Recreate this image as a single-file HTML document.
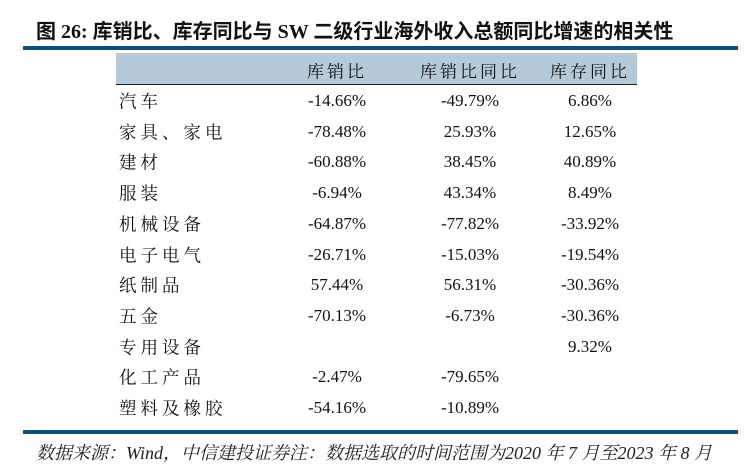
<!DOCTYPE html>
<html><head><meta charset="utf-8"><style>
body{margin:0;width:754px;height:474px;background:#fff;position:relative;overflow:hidden;font-family:"Liberation Serif","Noto Serif CJK SC",serif;color:#111}
.t{position:absolute;left:36px;top:15px;font-family:"Liberation Serif","Noto Sans CJK SC",sans-serif;font-weight:bold;font-size:20px;white-space:nowrap}
.r{position:absolute;left:23px;width:715px;height:4px;background:#0e4f7a}
.hd{position:absolute;left:116px;top:53px;width:521px;height:31px;background:#b5cad9;border-bottom:1.5px solid #222}
.c{position:absolute;font-size:17px;white-space:nowrap;transform:translate(-50%,-50%)}
.l{position:absolute;left:119px;font-size:17.5px;letter-spacing:4px;white-space:nowrap;transform:translateY(-50%)}
.f{position:absolute;left:36px;top:439px;font-style:italic;font-size:18px;white-space:nowrap;color:#222}
</style></head><body>
<div class="t">图 26:&nbsp;库销比、库存同比与 SW 二级行业海外收入总额同比增速的相关性</div>
<div class="r" style="top:46px"></div>
<div class="hd"></div>
<div class="c" style="left:337px;top:70px;letter-spacing:3px">库销比</div>
<div class="c" style="left:470px;top:70px;letter-spacing:3px">库销比同比</div>
<div class="c" style="left:590px;top:70px;letter-spacing:3px">库存同比</div>
<div id="rows"></div>
<script>
var d=[["汽车","-14.66%","-49.79%","6.86%"],["家具、家电","-78.48%","25.93%","12.65%"],["建材","-60.88%","38.45%","40.89%"],["服装","-6.94%","43.34%","8.49%"],["机械设备","-64.87%","-77.82%","-33.92%"],["电子电气","-26.71%","-15.03%","-19.54%"],["纸制品","57.44%","56.31%","-30.36%"],["五金","-70.13%","-6.73%","-30.36%"],["专用设备","","","9.32%"],["化工产品","-2.47%","-79.65%",""],["塑料及橡胶","-54.16%","-10.89%",""]];
var h="";d.forEach(function(r,i){var y=101+i*30.7;h+='<div class="l" style="top:'+y+'px">'+r[0]+'</div>';[337,470,590].forEach(function(x,j){h+='<div class="c" style="left:'+x+'px;top:'+y+'px">'+r[j+1]+'</div>';});});
document.getElementById("rows").innerHTML=h;
</script>
<div class="r" style="top:430px"></div>
<div class="f">数据来源：Wind，中信建投证券注：数据选取的时间范围为2020 年 7 月至2023 年 8 月</div>
</body></html>
